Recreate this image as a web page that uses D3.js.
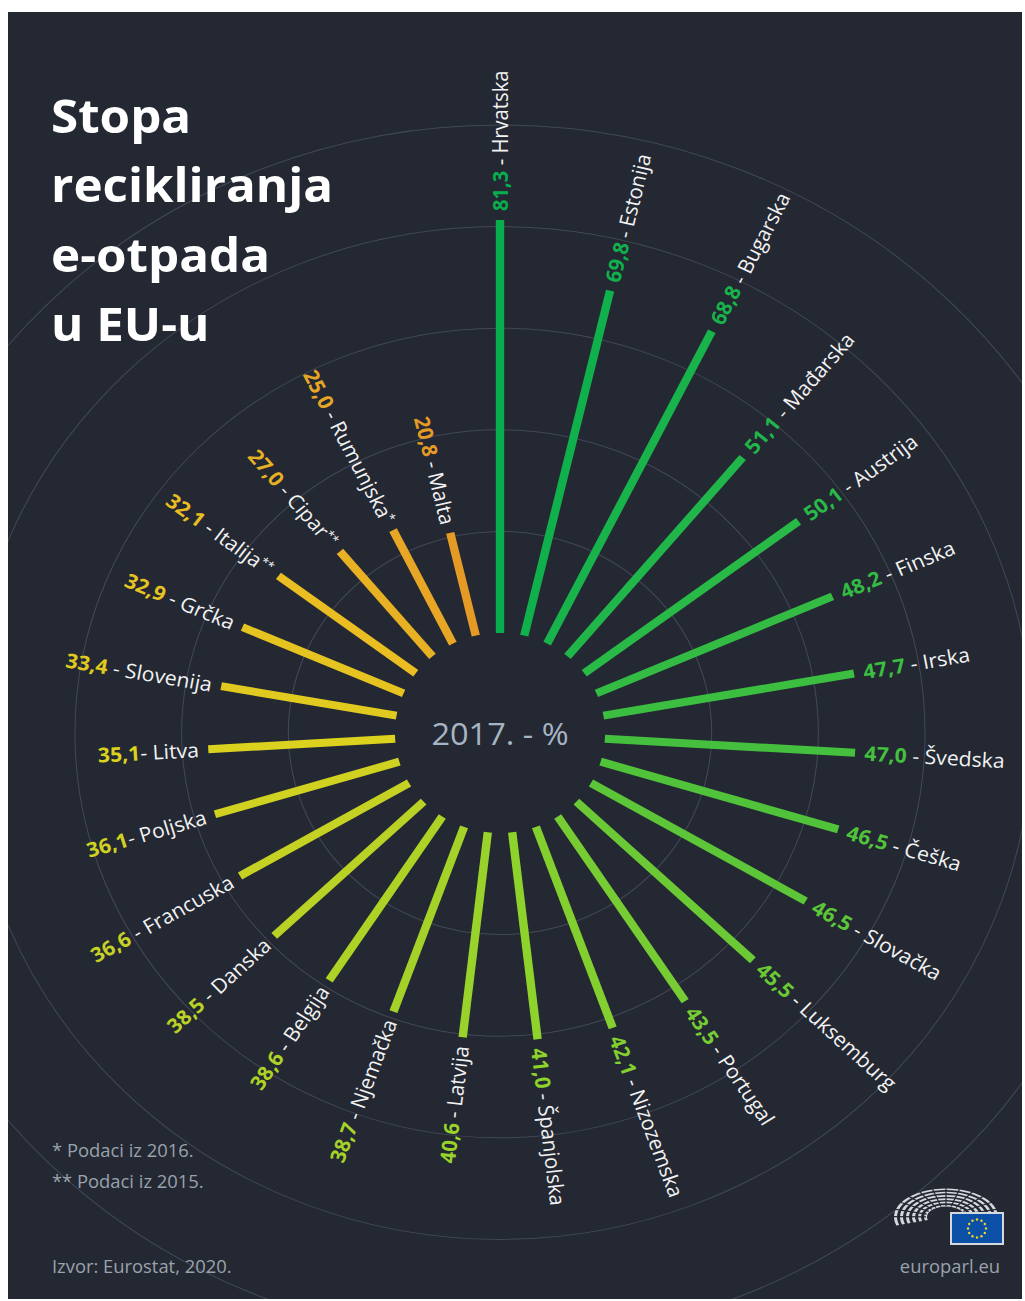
<!DOCTYPE html>
<html>
<head>
<meta charset="utf-8">
<script src="https://cdn.jsdelivr.net/npm/d3@7"></script>
<style>
  html, body { margin: 0; padding: 0; background: #ffffff; }
  svg { display: block; }
  text { font-family: "Open Sans", "Noto Sans", sans-serif; }
</style>
</head>
<body>
<svg id="chart" width="1025" height="1301"></svg>
<script>
// ---- data (clockwise from top) ----
const countries = ["Hrvatska","Estonija","Bugarska","Mađarska","Austrija","Finska","Irska","Švedska","Češka","Slovačka","Luksemburg","Portugal","Nizozemska","Španjolska","Latvija","Njemačka","Belgija","Danska","Francuska","Poljska","Litva","Slovenija","Grčka","Italija","Cipar","Rumunjska","Malta"];
const values = [81.3,69.8,68.8,51.1,50.1,48.2,47.7,47.0,46.5,46.5,45.5,43.5,42.1,41.0,40.6,38.7,38.6,38.5,36.6,36.1,35.1,33.4,32.9,32.1,27.0,25.0,20.8];
const separators = [" - "," - "," - "," - "," - "," - "," - "," - "," - "," - "," - "," - "," - "," - "," - "," - "," - "," - "," - ","- ","- "," - "," - "," - "," - "," - "," - "];
const marks = ["","","","","","","","","","","","","","","","","","","","","","","","**","**","*",""];
const ringValues = [20,40,60,80,100];
const titleLines = ["Stopa","recikliranja","e-otpada","u EU-u"];
const centerLabel = "2017. - %";
const notes = ["* Podaci iz 2016.","** Podaci iz 2015."];
const source = "Izvor: Eurostat, 2020.";
const brand = "europarl.eu";

// ---- layout ----
const SX = 1.05;            // horizontal stretch of the original picture
const cx = 500 / SX, cy = 733;
const svg = d3.select("#chart");

svg.append("defs").append("clipPath").attr("id", "panel")
  .append("rect").attr("x", 8 / SX).attr("y", 12).attr("width", 1014 / SX).attr("height", 1287);
svg.append("rect").attr("x", 8).attr("y", 12).attr("width", 1014).attr("height", 1287).attr("fill", "#232832");

const root = svg.append("g").attr("transform", `scale(${SX},1)`);

const r = d3.scaleLinear().domain([0, 100]).range([100, 608]);
const ang = d3.scaleBand().domain(countries).range([0, 360]);
const color = d3.scaleLinear()
  .domain([0, 3, 7, 13, 20, 23, 26])
  .range(["#08ad4d", "#20b64a", "#45c03e", "#8ed22c", "#dbd11f", "#eabd22", "#e59a26"])
  .interpolate(d3.interpolateRgb);

// rings (clipped to panel)
root.append("g").attr("clip-path", "url(#panel)")
  .append("g").attr("transform", `translate(${cx},${cy})`)
  .selectAll("circle").data(ringValues).join("circle")
  .attr("r", d => r(d)).attr("fill", "none").attr("stroke", "#424856").attr("stroke-width", 1);

const chart = root.append("g").attr("transform", `translate(${cx},${cy})`);

const rad = d => ang(d) * Math.PI / 180;
const pt = (a, rr) => [Math.sin(a) * rr, -Math.cos(a) * rr];

// bars
chart.append("g").selectAll("line").data(countries).join("line")
  .attr("x1", d => pt(rad(d), r(0))[0])
  .attr("y1", d => pt(rad(d), r(0))[1])
  .attr("x2", (d, i) => pt(rad(d), r(values[i]))[0])
  .attr("y2", (d, i) => pt(rad(d), r(values[i]))[1])
  .attr("stroke", (d, i) => color(i))
  .attr("stroke-width", 8);

// labels
const fmt = v => v.toFixed(1).replace(".", ",");
const idx = d => countries.indexOf(d);
const labels = chart.append("g").selectAll("text").data(countries).join("text")
  .attr("transform", (d, i) => {
    const a = ang(d);
    const [x, y] = pt(rad(d), r(values[i]) + 9);
    const rot = a < 180 ? a - 90 : a + 90;
    return `translate(${x},${y}) rotate(${rot})`;
  })
  .attr("text-anchor", d => ang(d) < 180 ? "start" : "end")
  .attr("dy", "0.36em")
  .attr("font-size", 20.2);
labels.append("tspan").attr("font-weight", 700).attr("fill", d => color(idx(d))).text(d => fmt(values[idx(d)]));
labels.append("tspan").attr("fill", "#f2f2f2").text(d => separators[idx(d)] + d);
labels.filter(d => marks[idx(d)] !== "").append("tspan").attr("fill", "#f2f2f2")
  .attr("font-size", 12).attr("dy", "-0.55em").text(d => marks[idx(d)]);

// center label
chart.append("text").attr("text-anchor", "middle").attr("y", 12).attr("font-size", 31)
  .attr("fill", "#a6b4c3").text(centerLabel);

// title
root.append("g").selectAll("text").data(titleLines).join("text")
  .attr("x", 51 / SX).attr("y", (d, i) => 133 + i * 69.5)
  .attr("font-size", 47).attr("font-weight", 700).attr("fill", "#ffffff").text(d => d);

// footnotes
root.append("g").selectAll("text").data(notes).join("text")
  .attr("x", 52 / SX).attr("y", (d, i) => 1157 + i * 31)
  .attr("font-size", 17.5).attr("fill", "#9aa2ad").text(d => d);
root.append("text").attr("x", 52 / SX).attr("y", 1273).attr("font-size", 17.5)
  .attr("fill", "#9aa2ad").text(source);
root.append("text").attr("x", 1000 / SX).attr("y", 1273).attr("text-anchor", "end").attr("font-size", 17.5)
  .attr("fill", "#9aa2ad").text(brand);

// logo: hemicycle + flag
const logo = svg.append("g").attr("transform", "translate(946,1217)");
const arcPath = d3.arc();
[52, 46, 40, 34, 28, 22].forEach((rx, k) => {
  logo.append("path")
    .attr("d", arcPath({innerRadius: rx - 3, outerRadius: rx, startAngle: -Math.PI / 2 - 0.3, endAngle: Math.PI / 2 + 0.3}))
    .attr("transform", "scale(1,0.55)")
    .attr("fill", "#d5d8dd");
});
// radial seat gaps
d3.range(-6, 7).forEach(k => {
  const a = k * 0.26;
  logo.append("line")
    .attr("x1", Math.sin(a) * 20).attr("y1", -Math.cos(a) * 20 * 0.55)
    .attr("x2", Math.sin(a) * 54).attr("y2", -Math.cos(a) * 54 * 0.55)
    .attr("stroke", "#232832").attr("stroke-width", 1.2);
});
logo.append("rect").attr("x", 4).attr("y", -5).attr("width", 54).attr("height", 33).attr("fill", "#d5d8dd");
logo.append("rect").attr("x", 6).attr("y", -3).attr("width", 50).attr("height", 29).attr("fill", "#0c4fa6");
d3.range(12).forEach(k => {
  const a = k * Math.PI / 6;
  logo.append("circle").attr("cx", 31 + Math.sin(a) * 9).attr("cy", 11.5 - Math.cos(a) * 9).attr("r", 1.2).attr("fill", "#f5d32a");
});
</script>
</body>
</html>
